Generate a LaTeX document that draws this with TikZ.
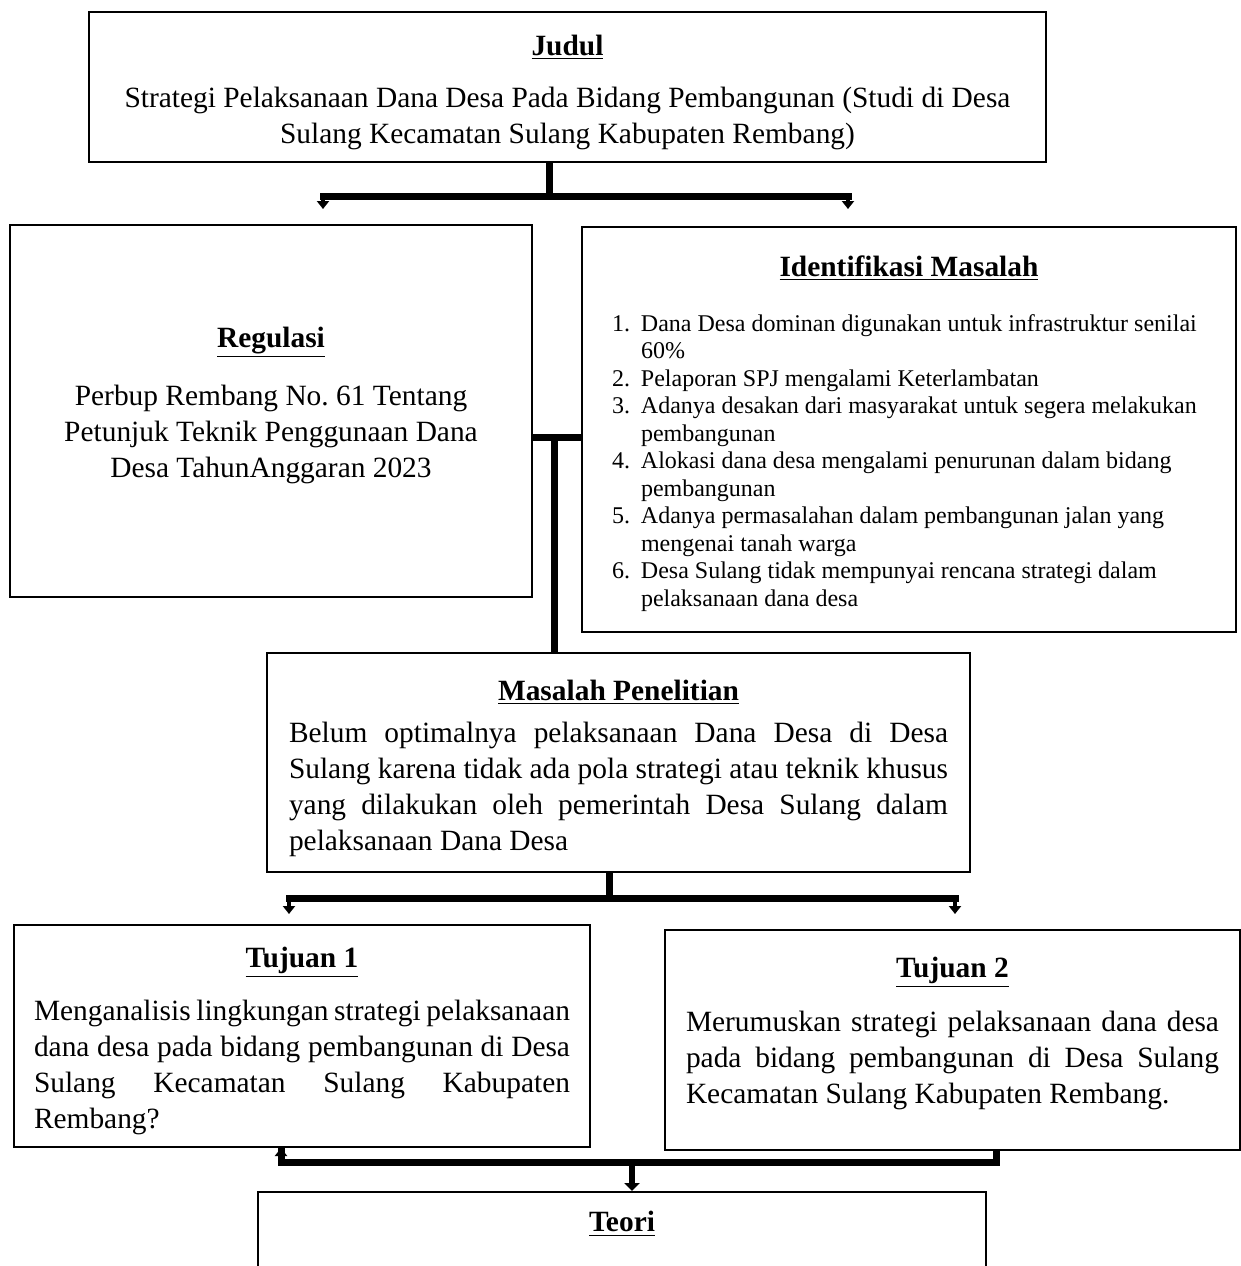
\documentclass[tikz,border=0pt]{standalone}
\usepackage{fontspec}
\setmainfont{Liberation Serif}
\usetikzlibrary{positioning,arrows.meta}

\setlength\parindent{0pt}
\setlength\parskip{0pt}
\hyphenpenalty=10000

\newcommand\judul[1]{\underline{\textbf{#1}}}
\newcommand\butir[2]{\par\noindent\hangindent=14.5pt\hangafter=1%
    \makebox[14.5pt][l]{#1}#2}
\newcommand\atas[1]{\par\nointerlineskip\vbox to #1{}\nointerlineskip}
\newcommand\bawah[1]{\par\nointerlineskip\vbox to #1{}}

\begin{document}
\begin{tikzpicture}[x=0.5pt,y=-0.5pt,
    kotak/.style={draw,line width=1pt,inner sep=0pt,
        font=\fontsize{14.7}{18}\selectfont},
    bus/.style={line width=3.5pt},
    panah/.style={line width=2pt,
        -{Triangle[width=6pt,length=4pt]}}]
    \useasboundingbox (0,0) rectangle (1241,1266);
    \clip (0,0) rectangle (1241,1266);

    % Boxes
    \node[kotak,minimum width=478.5pt,minimum height=75pt,
        text width=460pt,align=flush center] (judulbox)
        at (567.5,87) {\atas{5pt}\judul{Judul}\\[8pt]
        Strategi Pelaksanaan Dana Desa Pada Bidang Pembangunan (Studi di Desa\\
        Sulang Kecamatan Sulang Kabupaten Rembang)};
    \node[kotak,minimum width=261pt,minimum height=186pt,
        text width=240pt,align=flush center] (regulasi)
        at (271,411) {\judul{Regulasi}\\[11pt]
        Perbup Rembang No.\ 61 Tentang\\
        Petunjuk Teknik Penggunaan Dana\\
        Desa TahunAnggaran 2023\bawah{6pt}};
    \node[kotak,minimum width=327pt,minimum height=202.5pt,
        text width=297pt,align=flush left] (identifikasi)
        at (909,429.5) {\atas{4pt}\centerline{\judul{Identifikasi Masalah}}\par
        \vspace{13.5pt}
        {\fontsize{12}{13.75}\selectfont
        \butir{1.}{Dana Desa dominan digunakan untuk infrastruktur senilai\newline 60\%}
        \butir{2.}{Pelaporan SPJ mengalami Keterlambatan}
        \butir{3.}{Adanya desakan dari masyarakat untuk segera melakukan\newline pembangunan}
        \butir{4.}{Alokasi dana desa mengalami penurunan dalam bidang\newline pembangunan}
        \butir{5.}{Adanya permasalahan dalam pembangunan jalan yang\newline mengenai tanah warga}
        \butir{6.}{Desa Sulang tidak mempunyai rencana strategi dalam\newline pelaksanaan dana desa}\par}};
    \node[kotak,minimum width=351.5pt,minimum height=109.5pt,
        text width=329.5pt,align=justify] (masalah)
        at (618.5,762.5) {\atas{6pt}\centerline{\judul{Masalah Penelitian}}\par
        \vspace{3pt}
        Belum optimalnya pelaksanaan Dana Desa di Desa\linebreak
        Sulang karena tidak ada pola strategi atau teknik khusus\linebreak
        yang dilakukan oleh pemerintah Desa Sulang dalam\linebreak
        pelaksanaan Dana Desa};
    \node[kotak,minimum width=288pt,minimum height=111pt,
        text width=268pt,align=justify] (tujuan1)
        at (302,1036) {\atas{5pt}\centerline{\judul{Tujuan 1}}\par
        \vspace{8.5pt}
        Menganalisis lingkungan strategi pelaksanaan\linebreak
        dana desa pada bidang pembangunan di Desa\linebreak
        Sulang Kecamatan Sulang Kabupaten\linebreak
        Rembang?};
    \node[kotak,minimum width=287.5pt,minimum height=110pt,
        text width=266.5pt,align=justify] (tujuan2)
        at (952.5,1040) {\centerline{\judul{Tujuan 2}}\par
        \vspace{9pt}
        Merumuskan strategi pelaksanaan dana desa\linebreak
        pada bidang pembangunan di Desa Sulang\linebreak
        Kecamatan Sulang Kabupaten Rembang.\bawah{7pt}};
    \node[kotak,minimum width=364pt,minimum height=150pt,
        anchor=north] (teori) at (622,1191) {};
    \node[font=\fontsize{14.7}{18}\selectfont,inner sep=0pt,
        below=10pt of teori.north] (teorijudul) {\judul{Teori}};

    % Judul to Regulasi / Identifikasi
    \coordinate (jt) at (549,196);
    \coordinate (jk) at (323,196);
    \coordinate (jn) at (848,196);
    \draw[bus] (judulbox.south -| jt) -- (jt);
    \draw[bus,line cap=rect] (jk) -- (jn);
    \draw[panah,shorten >=7.5pt] (jk) -- (jk |- regulasi.north);
    \draw[panah,shorten >=8.5pt] (jn) -- (jn |- identifikasi.north);

    % Regulasi + Identifikasi to Masalah
    \coordinate (rt) at (554,437);
    \draw[bus] (regulasi.east |- rt) -- (identifikasi.west |- rt);
    \draw[bus] (rt) -- (rt |- masalah.north);

    % Masalah to Tujuan
    \coordinate (mt) at (609,898);
    \coordinate (mk) at (289,898);
    \coordinate (mn) at (955,898);
    \draw[bus] (masalah.south -| mt) -- (mt);
    \draw[bus,line cap=rect] (mk) -- (mn);
    \draw[panah,shorten >=5pt] (mk) -- (mk |- tujuan1.north);
    \draw[panah,shorten >=7.5pt] (mn) -- (mn |- tujuan2.north);

    % Tujuan to Teori
    \coordinate (tk) at (281,1162);
    \coordinate (tn) at (996,1162);
    \coordinate (tt) at (632,1162);
    \draw[bus] (tujuan1.south -| tk) -- (tk) -- (tn)
        -- (tujuan2.south -| tn);
    \draw[panah] (tk) -- (tujuan1.south -| tk);
    \draw[panah,line width=3pt,
        -{Triangle[width=7.5pt,length=4pt]}] (tt) -- (teori.north -| tt);
\end{tikzpicture}
\end{document}
